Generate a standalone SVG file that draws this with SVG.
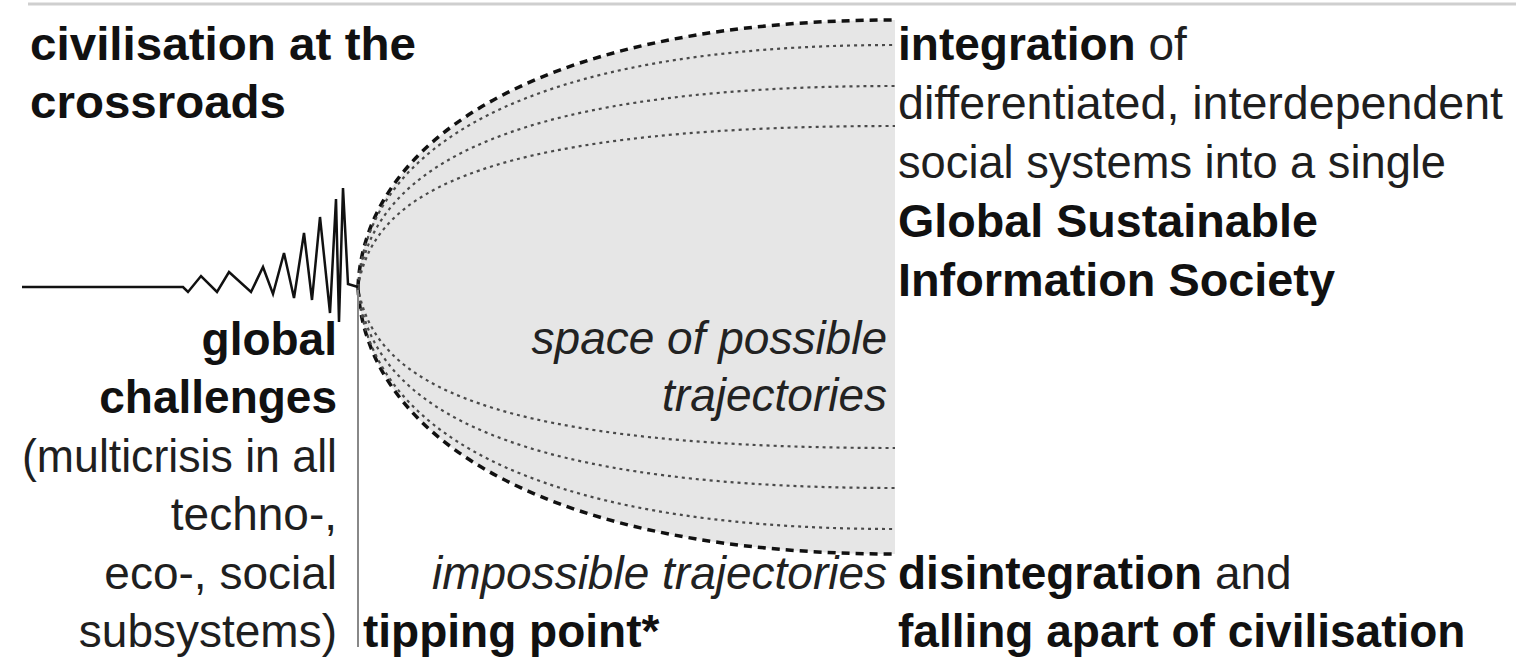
<svg xmlns="http://www.w3.org/2000/svg" width="1516" height="657" viewBox="0 0 1516 657">
<style>
text{font-family:"Liberation Sans",Arial,Helvetica,sans-serif;font-size:46px;fill:#1f1f1f}
.b{font-weight:bold;fill:#111}
.i{font-style:italic;fill:#222}
.r{text-anchor:end}
.outer{fill:none;stroke:#111;stroke-width:3.5;stroke-dasharray:8 6}
.dot{fill:none;stroke:#4a4a4a;stroke-width:2.2;stroke-dasharray:3 4}
</style>
<rect width="1516" height="657" fill="#fff"/>
<line x1="28" y1="4" x2="1516" y2="4" stroke="#cfcfcf" stroke-width="3"/>
<g id="space">
<path d="M358,287 C365,130 560,20 895,20 L895,554 C560,554 365,444 358,287 Z" fill="#e6e6e6"/>
</g>
<g id="connectors">
<path class="outer" d="M358,287 C365,130 560,20 895,20"/>
<path class="outer" d="M358,287 C365,444 560,554 895,554"/>
<path class="dot" d="M358,287 C366,150 520,45 895,45"/>
<path class="dot" d="M358,287 C369,180 480,86 895,86"/>
<path class="dot" d="M358,287 C372,205 450,126 895,126"/>
<path class="dot" d="M358,287 C366,424 520,529 895,529"/>
<path class="dot" d="M358,287 C369,394 480,488 895,488"/>
<path class="dot" d="M358,287 C372,369 450,448 895,448"/>
<polyline fill="none" stroke="#111" stroke-width="2.5" stroke-linejoin="miter" points="22,287 183,287 188,292 201,276 217,292 229,272 251,292 263,267 273,294 284,253 294,298 304,233 312,300 320,217 330,313 336,199 339,322 343,188 348,284 358,287"/>
<line x1="358" y1="290" x2="358" y2="647" stroke="#888" stroke-width="2"/>
</g>
<g id="crossroads">
<text x="30" y="60" class="b" textLength="386" lengthAdjust="spacingAndGlyphs">civilisation at the</text>
<text x="30" y="118" class="b" textLength="256" lengthAdjust="spacingAndGlyphs">crossroads</text>
</g>
<g id="integration">
<text x="898" y="60"><tspan class="b">integration</tspan> of</text>
<text x="898" y="119" textLength="605" lengthAdjust="spacingAndGlyphs">differentiated, interdependent</text>
<text x="898" y="178" textLength="548" lengthAdjust="spacingAndGlyphs">social systems into a single</text>
<text x="898" y="237" class="b" textLength="420" lengthAdjust="spacingAndGlyphs">Global Sustainable</text>
<text x="898" y="296" class="b" textLength="437" lengthAdjust="spacingAndGlyphs">Information Society</text>
</g>
<g id="challenges">
<text x="337" y="355" class="b r">global</text>
<text x="337" y="413" class="b r">challenges</text>
<text x="337" y="472" class="r" textLength="315" lengthAdjust="spacingAndGlyphs">(multicrisis in all</text>
<text x="337" y="530" class="r">techno-,</text>
<text x="337" y="589" class="r">eco-, social</text>
<text x="337" y="647" class="r">subsystems)</text>
</g>
<g id="possible">
<text x="887" y="354" class="i r">space of possible</text>
<text x="887" y="411" class="i r">trajectories</text>
</g>
<g id="impossible">
<text x="887" y="589" class="i r">impossible trajectories</text>
</g>
<g id="tipping">
<text x="363" y="647" class="b">tipping point*</text>
</g>
<g id="disintegration">
<text x="898" y="589"><tspan class="b">disintegration</tspan> and</text>
<text x="898" y="647" class="b">falling apart of civilisation</text>
</g>
</svg>
